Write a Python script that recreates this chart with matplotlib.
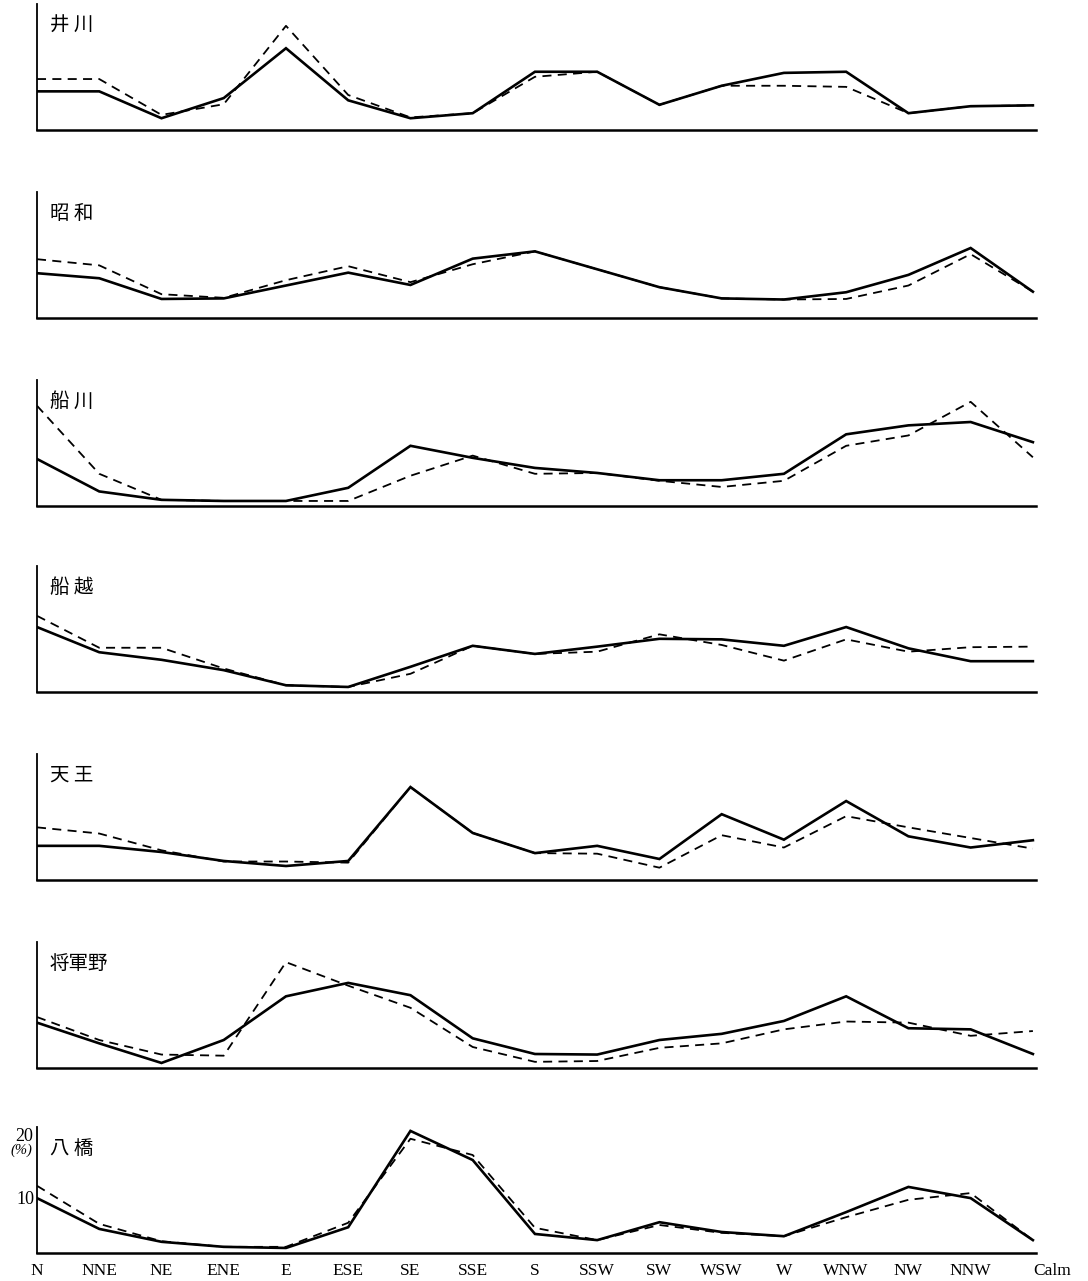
import matplotlib
matplotlib.use("Agg")
import matplotlib.pyplot as plt

directions = ["N", "NNE", "NE", "ENE", "E", "ESE", "SE", "SSE", "S", "SSW",
              "SW", "WSW", "W", "WNW", "NW", "NNW", "Calm"]
stations = ["井川", "昭和", "船川", "船越", "天王", "将軍野", "八橋"]
station_titles = ["井 川", "昭 和", "船 川", "船 越", "天 王", "将軍野", "八 橋"]

# solid line series (%)
ikawa_solid = [6.9, 6.9, 2.1, 5.7, 14.6, 5.3, 2.1, 3.0, 10.4, 10.4, 4.5, 7.9, 10.2, 10.4, 3.0, 4.25, 4.4]
showa_solid = [8.0, 7.1, 3.4, 3.5, 5.8, 8.1, 5.9, 10.6, 11.9, 8.7, 5.5, 3.5, 3.3, 4.6, 7.7, 12.5, 4.7]
funakawa_solid = [8.4, 2.6, 1.1, 0.9, 0.9, 3.25, 10.75, 8.6, 6.8, 5.9, 4.6, 4.6, 5.75, 12.8, 14.4, 15.0, 11.4]
funakoshi_solid = [11.6, 7.1, 5.75, 3.9, 1.2, 0.9, 4.5, 8.25, 6.8, 8.1, 9.5, 9.4, 8.25, 11.6, 7.8, 5.5, 5.5]
tenno_solid = [6.1, 6.1, 5.0, 3.4, 2.5, 3.4, 16.6, 8.4, 4.8, 6.1, 3.75, 11.75, 7.2, 14.1, 7.8, 5.8, 7.1]
shogunno_solid = [8.1, 4.4, 0.9, 5.0, 12.8, 15.2, 13.0, 5.3, 2.5, 2.4, 5.0, 6.1, 8.4, 12.8, 7.1, 6.9, 2.5]
yabase_solid = [9.8, 4.3, 2.0, 1.1, 0.9, 4.6, 21.8, 16.6, 3.4, 2.3, 5.5, 3.75, 3.0, 7.3, 11.8, 9.8, 2.3]

# dashed line series (%)
ikawa_dash = [9.1, 9.1, 2.7, 4.6, 18.6, 6.25, 2.25, 3.0, 9.5, 10.4, 4.5, 7.9, 7.9, 7.7, 3.0, 4.25, 4.4]
showa_dash = [10.5, 9.4, 4.25, 3.6, 6.75, 9.25, 6.4, 9.6, 11.9, 8.7, 5.5, 3.5, 3.3, 3.4, 5.8, 11.4, 4.7]
funakawa_dash = [17.9, 5.75, 1.1, 0.9, 0.9, 0.9, 5.4, 9.0, 5.75, 5.9, 4.5, 3.4, 4.5, 10.75, 12.6, 18.6, 8.7]
funakoshi_dash = [13.6, 7.9, 7.9, 4.2, 1.2, 0.9, 3.25, 8.25, 6.8, 7.2, 10.3, 8.4, 5.6, 9.4, 7.2, 8.0, 8.1]
tenno_dash = [9.4, 8.3, 5.3, 3.3, 3.3, 3.1, 16.6, 8.4, 4.8, 4.7, 2.2, 8.0, 5.8, 11.4, 9.4, 7.5, 5.6]
shogunno_dash = [9.1, 5.0, 2.4, 2.2, 18.9, 14.7, 10.75, 3.75, 1.1, 1.25, 3.6, 4.4, 6.9, 8.3, 8.1, 5.75, 6.6]
yabase_dash = [12.0, 5.2, 2.1, 1.1, 1.1, 5.4, 20.4, 17.5, 4.5, 2.3, 5.0, 3.6, 3.0, 6.4, 9.5, 10.7, 2.3]

solid_series = [ikawa_solid, showa_solid, funakawa_solid, funakoshi_solid,
                tenno_solid, shogunno_solid, yabase_solid]
dash_series = [ikawa_dash, showa_dash, funakawa_dash, funakoshi_dash,
               tenno_dash, shogunno_dash, yabase_dash]

ytick_vals = [10]

W, H = 1088, 1281
fig = plt.figure(figsize=(W / 100, H / 100), dpi=100)

baselines = [130, 318, 506, 692, 880, 1068, 1253]
ax_h = 126
left_px, right_px = 37, 1036
x = list(range(len(directions)))
ymax = ax_h / 5.6

for i, (name, title) in enumerate(zip(stations, station_titles)):
    b = baselines[i]
    ax = fig.add_axes([left_px / W, 1 - b / H, (right_px - left_px) / W, ax_h / H])
    ax.plot(x, solid_series[i], color="black", lw=1.9, solid_joinstyle="miter")
    ax.plot(x, dash_series[i], color="black", lw=1.3, dashes=(5, 3.5))
    ax.set_xlim(0, 16.05)
    ax.set_ylim(0, ymax)
    for s in ["top", "right"]:
        ax.spines[s].set_visible(False)
    ax.spines["left"].set_linewidth(1.3)
    ax.spines["bottom"].set_linewidth(1.8)
    ax.set_facecolor("none")
    ax.text(13 / (right_px - left_px), 1 - 11 / ax_h, title,
            transform=ax.transAxes, ha="left", va="top", fontsize=14,
            family=["Noto Sans CJK JP", "DejaVu Sans"])
    ax.tick_params(length=0)
    if i == len(stations) - 1:
        ax.set_xticks(x)
        labels = ax.set_xticklabels(directions, family="Liberation Serif", fontsize=12.5)
        labels[-1].set_ha("left")
        ax.tick_params(axis="x", pad=7)
        ax.set_yticks(ytick_vals)
        ax.set_yticklabels([str(v) for v in ytick_vals], family="Liberation Serif", fontsize=13)
        ax.tick_params(axis="y", pad=2)
        ax.text(-0.004, 20.8, "20", ha="right", va="center", fontsize=13,
                family="Liberation Serif", transform=ax.get_yaxis_transform())
        ax.text(-0.005, 18.3, "(%)", ha="right", va="center", fontsize=10.5,
                family="Liberation Serif", style="italic",
                transform=ax.get_yaxis_transform())
    else:
        ax.set_xticks([])
        ax.set_yticks([])

fig.savefig("out.png", dpi=100, facecolor="white")
